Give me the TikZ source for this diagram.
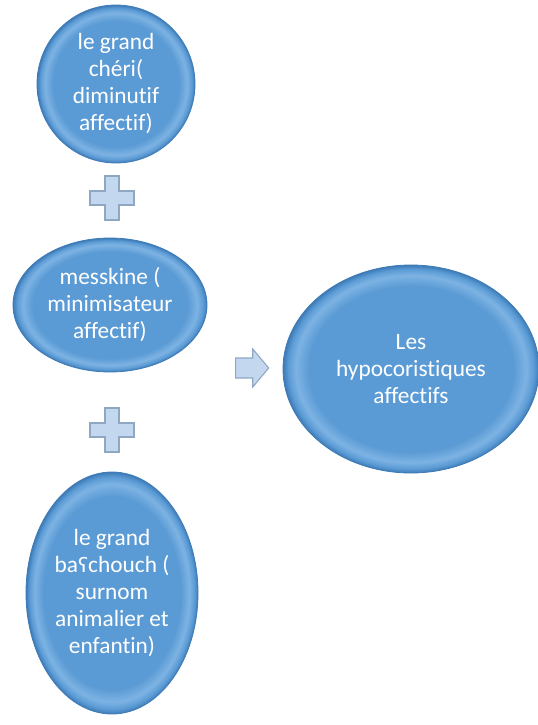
\documentclass[tikz,border=0pt]{standalone}
\usepackage{fontspec}
\setmainfont{Carlito}[Ligatures=NoCommon]
\newfontfamily\ipafont{DejaVu Sans}
\usepackage{xcolor}
\usepackage{tikz}
\usetikzlibrary{shapes.geometric, shapes.arrows}

\definecolor{ellblue}{HTML}{5B9BD5}
\definecolor{elllight}{HTML}{7DB3E3}
\definecolor{elldark}{HTML}{3E7BB6}
\definecolor{signfill}{HTML}{C3D8EF}
\definecolor{signedge}{HTML}{8EA7C2}

\pgfdeclareradialshading{bevel}{\pgfpoint{0bp}{0bp}}{%
  color(0bp)=(ellblue); color(20bp)=(ellblue); color(22.5bp)=(elllight);
  color(24bp)=(ellblue); color(25bp)=(elldark); color(50bp)=(elldark)}

\begin{document}
\begin{tikzpicture}[
  x=0.75pt, y=-0.75pt,
  every node/.style={font=\fontsize{17.5pt}{20.25pt}\selectfont},
  bubble/.style={
    ellipse, shading=bevel, draw=elldark, line width=0.6pt,
    text=white, align=center, inner sep=0pt,
    minimum width=#1},
  plussign/.style={fill=signfill, draw=signedge, line width=0.8pt, line join=miter},
  arrowsign/.style={
    single arrow, fill=signfill, draw=signedge, line width=0.8pt,
    minimum height=24.75pt, inner sep=7.1pt,
    single arrow head extend=6.75pt, single arrow tip angle=100}
]
\useasboundingbox (0,0) rectangle (538,725);

%% ── LEFT COLUMN ──────────────────────────────────────────
\node[bubble=118.5pt, minimum height=118.5pt] (cheri) at (116,84)
  {le grand\\chéri(\\diminutif\\affectif)};
\node[bubble=145.5pt, minimum height=100.5pt] (messkine) at (110,305)
  {messkine (\\minimisateur\\affectif)};
\node[bubble=129pt, minimum height=181.5pt] (baschouch) at (112,593)
  {le grand\\ba{\ipafont\fontsize{15pt}{20.25pt}\selectfont ʕ}chouch (\\surnom\\animalier et\\enfantin)};

%% ── RIGHT ────────────────────────────────────────────────
\node[bubble=192pt, minimum height=156pt] (hypo) at (411,369)
  {Les\\hypocoristiques\\affectifs};

%% Plus signs between the left bubbles
\coordinate (plusA) at (112,198);
\coordinate (plusB) at (112,430);
\foreach \p in {plusA, plusB}
  \draw[plussign, shift={(\p)}]
    (-7,-22) -- (7,-22) -- (7,-7) -- (22,-7) -- (22,7) -- (7,7)
    -- (7,22) -- (-7,22) -- (-7,7) -- (-22,7) -- (-22,-7) -- (-7,-7) -- cycle;

%% Arrow towards the result
\node[arrowsign] (toward) at (248,368) {};

\end{tikzpicture}
\end{document}
